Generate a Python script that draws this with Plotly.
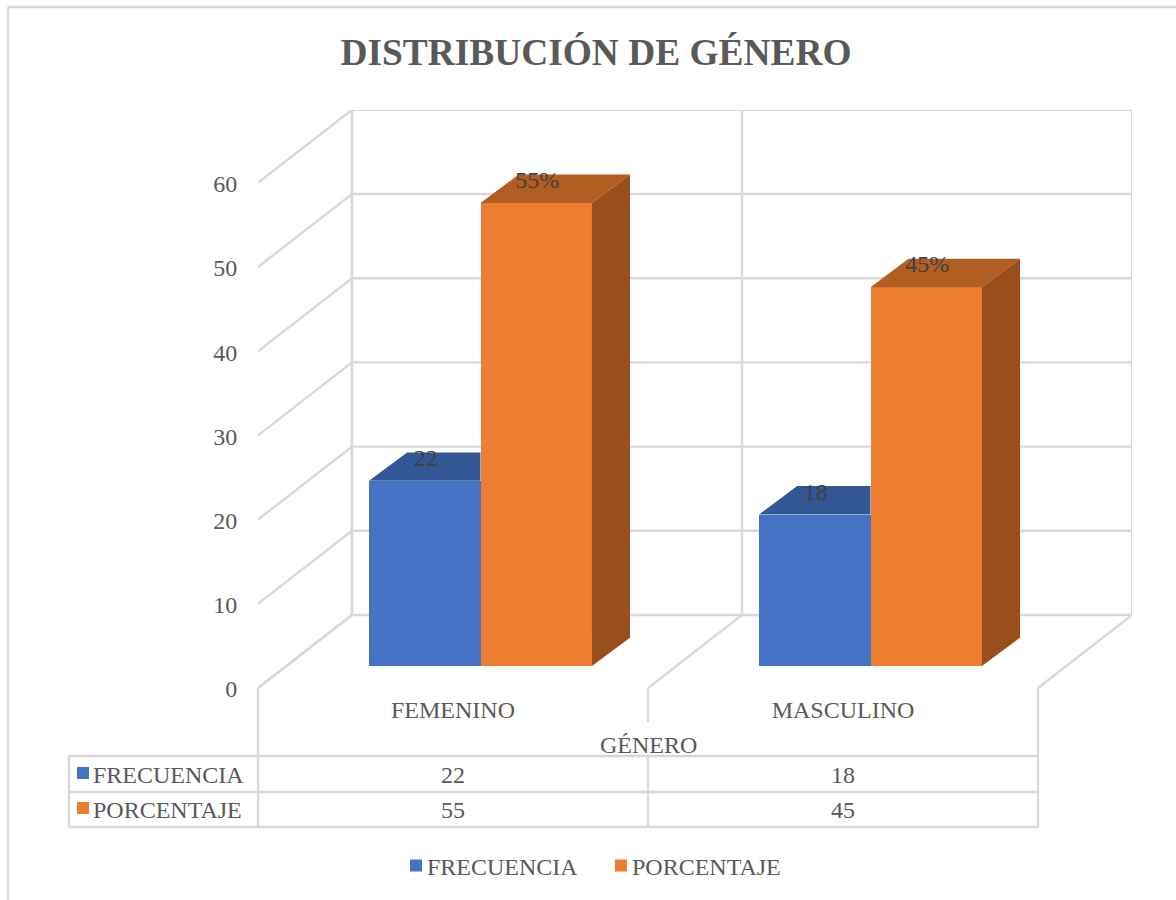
import plotly.graph_objects as go

# ---- data ----
categories = ["FEMENINO", "MASCULINO"]
frecuencia = [22, 18]
porcentaje = [55, 45]
porcentaje_labels = ["55%", "45%"]
y_ticks = [0, 10, 20, 30, 40, 50, 60]
series_names = ["FRECUENCIA", "PORCENTAJE"]
chart_title = "DISTRIBUCIÓN DE GÉNERO"
x_title = "GÉNERO"

# ---- style ----
FONT = "Liberation Serif"
GRID = "#D9D9D9"
TEXT = "#595959"
BLUE, BLUE_TOP = "#4472C4", "#335694"
ORANGE, ORANGE_TOP, ORANGE_SIDE = "#ED7D31", "#B25E22", "#994F1B"

# plot area in page pixels
W, H = 1176, 900
L, R, T, B = 258, 1132, 110, 688
PX_PER_CAT = 390.0
PX_PER_VAL = 8.42
DEPTH_X = 94 / PX_PER_CAT       # wall depth in category units
DEPTH_Y = 73 / PX_PER_VAL       # wall depth in value units
BAR_DEPTH_START = 0.30
BAR_DEPTH_X = 0.405
BAR_DEPTH_Y = 0.39
GAP = 0.75 / 3.5
BAR_W = 1 / 3.5
SEAM = 1.5 / PX_PER_CAT         # blue runs slightly under the orange bar


def xp(px):
    return (px - L) / (R - L)


def yp(py):
    return (B - py) / (B - T)


shapes = []


def grid(x0, y0, x1, y1):
    shapes.append(dict(type="line", xref="x", yref="y", x0=x0, y0=y0, x1=x1, y1=y1,
                       layer="below", line=dict(color=GRID, width=2.4)))


def page_line(x0, y0, x1, y1):
    shapes.append(dict(type="line", xref="paper", yref="paper", x0=xp(x0), y0=yp(y0),
                       x1=xp(x1), y1=yp(y1), layer="below", line=dict(color=GRID, width=2.4)))


# walls
for v in y_ticks:
    grid(0, v, DEPTH_X, v + DEPTH_Y)
    grid(DEPTH_X, v + DEPTH_Y, len(categories) + DEPTH_X, v + DEPTH_Y)
grid(DEPTH_X, DEPTH_Y, DEPTH_X, y_ticks[-1] + DEPTH_Y)
for c in range(len(categories) + 1):
    grid(c, 0, c + DEPTH_X, DEPTH_Y)
    grid(c + DEPTH_X, DEPTH_Y, c + DEPTH_X, y_ticks[-1] + DEPTH_Y)

# chart frame
page_line(8, 7, 8, 900)
page_line(8, 7, 1176, 7)

# table grid
for py in (756, 792, 827):
    page_line(69, py, 1038, py)
page_line(69, 756, 69, 827)
page_line(258, 688, 258, 827)
page_line(648, 688, 648, 722)
page_line(648, 756, 648, 827)
page_line(1038, 688, 1038, 827)

fig = go.Figure()

x_off = BAR_DEPTH_START * DEPTH_X - 0.7 / PX_PER_CAT
y_off = BAR_DEPTH_START * DEPTH_Y
dx = BAR_DEPTH_X * DEPTH_X
dy = BAR_DEPTH_Y * DEPTH_Y
cats = range(len(categories))
left_blue = [c + x_off + GAP for c in cats]
left_orange = [c + x_off + GAP + BAR_W for c in cats]

# front faces
fig.add_trace(go.Bar(name=series_names[0], x=[l + (BAR_W + SEAM) / 2 for l in left_blue],
                     y=frecuencia, base=y_off, width=BAR_W + SEAM,
                     marker=dict(color=BLUE, line=dict(width=0))))
fig.add_trace(go.Bar(name=series_names[1], x=[l + BAR_W / 2 for l in left_orange], y=porcentaje,
                     base=y_off, width=BAR_W, marker=dict(color=ORANGE, line=dict(width=0))))


def face(xs, ys, color):
    fig.add_trace(go.Scatter(x=xs, y=ys, mode="lines", fill="toself", fillcolor=color,
                             line=dict(width=0, color=color), showlegend=False, hoverinfo="skip"))


for i in cats:
    # blue top, cut where the orange bar in front of it begins
    top = frecuencia[i] + y_off
    l = left_blue[i]
    r = left_orange[i]
    face([l, r, r, l + dx, l], [top, top, top + dy, top + dy, top], BLUE_TOP)
    # orange top and side
    top = porcentaje[i] + y_off
    l = left_orange[i]
    r = l + BAR_W
    face([l, r, r + dx, l + dx, l], [top, top, top + dy, top + dy, top], ORANGE_TOP)
    face([r, r + dx, r + dx, r, r], [y_off, y_off + dy, top + dy, top, y_off], ORANGE_SIDE)

# data labels on the top faces
label_lift = 21 / PX_PER_VAL
label_shift = 1 / PX_PER_CAT
fig.add_trace(go.Scatter(x=[l + BAR_W / 2 + label_shift for l in left_blue],
                         y=[v + y_off + label_lift for v in frecuencia],
                         text=[str(v) for v in frecuencia], mode="text", showlegend=False,
                         textfont=dict(family=FONT, size=24, color="#404040"), hoverinfo="skip"))
fig.add_trace(go.Scatter(x=[l + BAR_W / 2 + label_shift for l in left_orange],
                         y=[v + y_off + label_lift for v in porcentaje],
                         text=porcentaje_labels, mode="text", showlegend=False,
                         textfont=dict(family=FONT, size=24, color="#404040"), hoverinfo="skip"))

# table texts
annotations = []


def page_text(px, py, text, anchor="center"):
    annotations.append(dict(xref="paper", yref="paper", x=xp(px), y=yp(py), text=text,
                            showarrow=False, xanchor=anchor, yanchor="middle", xshift=0,
                            font=dict(family=FONT, size=24, color=TEXT)))


page_text(648, 745, x_title)
table_rows = [frecuencia, porcentaje]
row_y = [775, 810]
key_colors = [BLUE, ORANGE]
for name, row, py, colr in zip(series_names, table_rows, row_y, key_colors):
    page_text(91.4, py, name, "left")
    for i, v in enumerate(row):
        page_text(258 + PX_PER_CAT * (i + 0.5), py, str(v))
    shapes.append(dict(type="rect", xref="paper", yref="paper", x0=xp(77), x1=xp(89),
                       y0=yp(py - 8), y1=yp(py + 4), fillcolor=colr, line=dict(width=0)))

fig.update_layout(
    width=W, height=H, autosize=False,
    margin=dict(l=L, r=W - R, t=T, b=H - B, pad=0),
    paper_bgcolor="white", plot_bgcolor="white",
    font=dict(family=FONT, size=24, color=TEXT),
    title=dict(text=f"<b>{chart_title}</b>", x=596 / W, xanchor="center", xref="container",
               y=1 - 52 / H, yanchor="middle", yref="container",
               font=dict(family=FONT, size=37.4, color=TEXT)),
    xaxis=dict(range=[0, (R - L) / PX_PER_CAT], tickmode="array", tickvals=[0.5, 1.5],
               ticktext=categories, showgrid=False, zeroline=False, showline=False,
               ticks="outside", ticklen=0, tickcolor="rgba(0,0,0,0)",
               tickfont=dict(family=FONT, size=24, color=TEXT)),
    yaxis=dict(range=[0, (B - T) / PX_PER_VAL], tickmode="array", tickvals=y_ticks,
               showgrid=False, zeroline=False, showline=False,
               ticks="outside", ticklen=15, tickcolor="rgba(0,0,0,0)", ticklabelshift=1,
               tickfont=dict(family=FONT, size=24, color=TEXT)),
    barmode="overlay", bargap=0,
    showlegend=True,
    legend=dict(orientation="h", xref="paper", yref="paper", x=xp(396), y=yp(866),
                xanchor="left", yanchor="middle", entrywidth=160, entrywidthmode="pixels",
                bgcolor="rgba(0,0,0,0)", font=dict(family=FONT, size=24, color=TEXT)),
    shapes=shapes, annotations=annotations,
)
fig.write_html(
    "out.html",
    config={"displayModeBar": False},
    post_script=(
        "document.body.style.margin='0';"
        "document.querySelectorAll('.legendtext').forEach(function(t){t.setAttribute('x','31');});"
    ),
)
